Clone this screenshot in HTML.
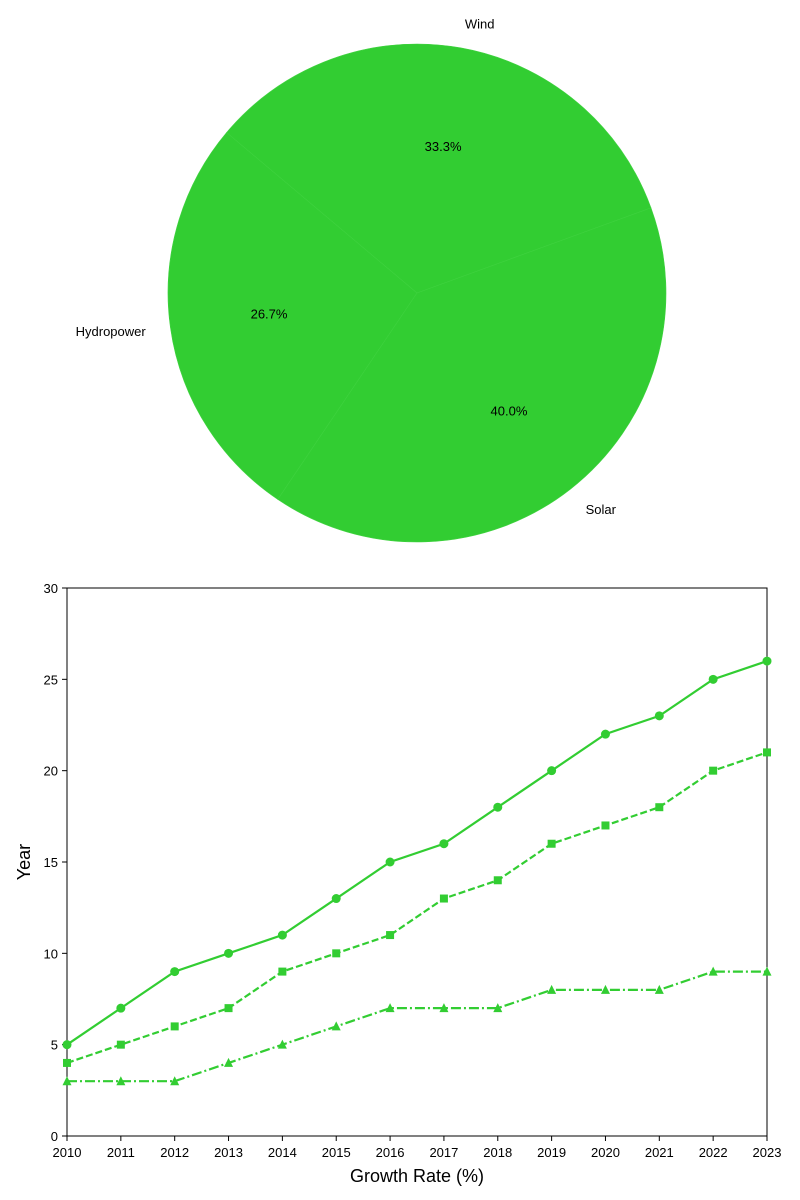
<!DOCTYPE html>
<html><head><meta charset="utf-8"><style>
html,body{margin:0;padding:0;background:#fff;}
svg{display:block;font-family:"Liberation Sans","DejaVu Sans",sans-serif;}
</style></head><body>
<svg id="root" width="800" height="1200">
<g id="pie"></g>
<g id="line"></g>
</svg>
<script>
const pieLabels = ["Wind", "Hydropower", "Solar"];
const pieValues = [33.3, 26.7, 40.0];
const years = [2010,2011,2012,2013,2014,2015,2016,2017,2018,2019,2020,2021,2022,2023];
const seriesA = [5,7,9,10,11,13,15,16,18,20,22,23,25,26];
const seriesB = [4,5,6,7,9,10,11,13,14,16,17,18,20,21];
const seriesC = [3,3,3,4,5,6,7,7,7,8,8,8,9,9];
const yTicks = [0,5,10,15,20,25,30];

const NS = "http://www.w3.org/2000/svg";
const C = "#32cd32";
function mk(tag, attrs, parent){const e=document.createElementNS(NS,tag);for(const k in attrs)e.setAttribute(k,attrs[k]);parent.appendChild(e);return e;}

// Pie
const pie = document.getElementById('pie');
const cx=417, cy=293, R=249;
const total = pieValues.reduce((a,b)=>a+b,0);
let ang = 20;
pieValues.forEach((v,i)=>{
  const sweep = v/total*360;
  const a0 = ang*Math.PI/180, a1=(ang+sweep)*Math.PI/180;
  const x0=cx+R*Math.cos(a0), y0=cy-R*Math.sin(a0);
  const x1=cx+R*Math.cos(a1), y1=cy-R*Math.sin(a1);
  const p = mk('path',{d:`M${cx},${cy} L${x0},${y0} A${R},${R} 0 ${sweep>180?1:0} 0 ${x1},${y1} Z`,fill:C,stroke:'#3fd23f','stroke-width':0.6},pie);
  
  
  const mid=(ang+sweep/2)*Math.PI/180;
  const lx=cx+1.1*R*Math.cos(mid), ly=cy-1.1*R*Math.sin(mid);
  const t = mk('text',{x:lx,y:ly+5,'font-size':13,'text-anchor':Math.cos(mid)>0.1?'start':(Math.cos(mid)<-0.1?'end':'middle')},pie);
  t.textContent=pieLabels[i];
  
  
  const px=cx+0.6*R*Math.cos(mid), py=cy-0.6*R*Math.sin(mid);
  const t2 = mk('text',{x:px,y:py+5,'font-size':13,'text-anchor':'middle'},pie);
  t2.textContent=v.toFixed(1)+'%';
  
  
  ang+=sweep;
});

// Line chart
const lg = document.getElementById('line');
const L=67, Rr=767, T=588, B=1136;
const xs = y => L + (y-years[0])/(years[years.length-1]-years[0])*(Rr-L);
const ys = v => B - v/30*(B-T);
const frame = mk('rect',{x:L,y:T,width:Rr-L,height:B-T,fill:'none',stroke:'#000','stroke-width':1},lg);


years.forEach(y=>{
  mk('line',{x1:xs(y),x2:xs(y),y1:B,y2:B+5,stroke:'#000'},lg);
  const t=mk('text',{x:xs(y),y:B+21,'font-size':13,'text-anchor':'middle'},lg);
  t.textContent=y;
  
  
});
yTicks.forEach(v=>{
  mk('line',{x1:L-5,x2:L,y1:ys(v),y2:ys(v),stroke:'#000'},lg);
  const t=mk('text',{x:L-9,y:ys(v)+5,'font-size':13,'text-anchor':'end'},lg);
  t.textContent=v;
  
  
});
const xt=mk('text',{x:(L+Rr)/2,y:1182,'font-size':18,'text-anchor':'middle'},lg);
xt.textContent='Growth Rate (%)';


const yt=mk('text',{x:30,y:(T+B)/2,'font-size':18,'text-anchor':'middle',transform:`rotate(-90 30 ${(T+B)/2})`},lg);
yt.textContent='Year';



function series(vals,dash,marker,name){
  const g=mk('g',{},lg);
  
  
  const pts=vals.map((v,i)=>xs(years[i])+','+ys(v)).join(' ');
  mk('polyline',{points:pts,fill:'none',stroke:C,'stroke-width':2.2,'stroke-dasharray':dash},g);
  vals.forEach((v,i)=>{
    const x=xs(years[i]),y=ys(v);
    let m;
    if(marker==='o') m=mk('circle',{cx:x,cy:y,r:4.5,fill:C},g);
    else if(marker==='s') m=mk('rect',{x:x-4,y:y-4,width:8,height:8,fill:C},g);
    else m=mk('polygon',{points:`${x},${y-5} ${x-4.5},${y+4} ${x+4.5},${y+4}`,fill:C},g);
    
    
  });
}
series(seriesA,'none','o','series-solid');
series(seriesB,'7,3','s','series-dashed');
series(seriesC,'10,3,2,3','^','series-dashdot');
</script>
</body></html>
